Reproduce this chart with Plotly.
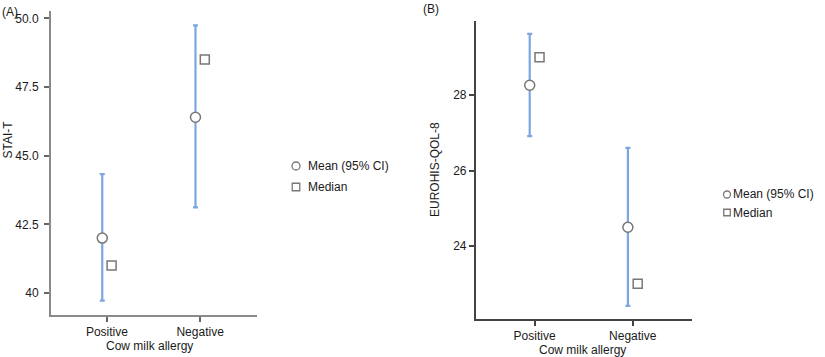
import plotly.graph_objects as go

categories = ["Positive", "Negative"]

# Panel A: STAI-T
a_mean = [42.0, 46.4]
a_ci_low = [39.72, 43.12]
a_ci_high = [44.33, 49.75]
a_median = [41.0, 48.5]
a_tickvals = [40, 42.5, 45, 47.5, 50]
a_ticktext = ["40", "42.5", "45.0", "47.5", "50.0"]

# Panel B: EUROHIS-QOL-8
b_mean = [28.26, 24.5]
b_ci_low = [26.91, 22.42]
b_ci_high = [29.62, 26.6]
b_median = [29.0, 23.0]
b_tickvals = [24, 26, 28]
b_ticktext = ["24", "26", "28"]

W, H = 825, 357
FONT = "Liberation Sans, Arial, sans-serif"
EB_COLOR = "#7BA7DE"
MK_LINE = "#777777"

fig = go.Figure()
xpos = [0, 1]
dodge = 0.05


def add_panel(mean, lo, hi, med, xa, ya):
    fig.add_trace(go.Scatter(
        x=[x - dodge for x in xpos], y=mean, mode="markers",
        marker=dict(symbol="circle", size=10, color="white",
                    line=dict(color=MK_LINE, width=1.5)),
        error_y=dict(type="data", symmetric=False,
                     array=[h - m for h, m in zip(hi, mean)],
                     arrayminus=[m - l for m, l in zip(mean, lo)],
                     color=EB_COLOR, thickness=2.2, width=2.5),
        xaxis=xa, yaxis=ya, showlegend=False, cliponaxis=False))
    fig.add_trace(go.Scatter(
        x=[x + dodge for x in xpos], y=med, mode="markers",
        marker=dict(symbol="square", size=9, color="white",
                    line=dict(color=MK_LINE, width=1.5)),
        xaxis=xa, yaxis=ya, showlegend=False, cliponaxis=False))


add_panel(a_mean, a_ci_low, a_ci_high, a_median, "x", "y")
add_panel(b_mean, b_ci_low, b_ci_high, b_median, "x2", "y2")


def px_x(p):
    return p / W


def px_y(p):
    return 1 - p / H


axis_common = dict(showgrid=False, zeroline=False, showline=True, ticks="outside",
                   ticklen=5, tickfont=dict(family=FONT, size=12, color="#1a1a1a"))

fig.update_layout(
    width=W, height=H, margin=dict(l=0, r=0, t=0, b=0),
    paper_bgcolor="white", plot_bgcolor="white",
    font=dict(family=FONT, size=12, color="#1a1a1a"),
    xaxis=dict(domain=[px_x(51), px_x(257)], range=[-0.6, 1.61],
               tickvals=xpos, ticktext=categories, anchor="y",
               linecolor="#8a8a8a", linewidth=2, tickcolor="#666666", tickwidth=1.5,
               **axis_common),
    yaxis=dict(domain=[px_y(315), px_y(11)], range=[39.2, 50.27],
               tickvals=a_tickvals, ticktext=a_ticktext, anchor="x",
               linecolor="#8a8a8a", linewidth=2, tickcolor="#666666", tickwidth=1.5,
               ticklabelstandoff=3, **axis_common),
    xaxis2=dict(domain=[px_x(475.7), px_x(691.7)], range=[-0.6, 1.6],
                tickvals=xpos, ticktext=categories, anchor="y2",
                linecolor="#444444", linewidth=1.5, tickcolor="#444444", tickwidth=1.5,
                **axis_common),
    yaxis2=dict(domain=[px_y(319), px_y(21)], range=[22.07, 29.96],
                tickvals=b_tickvals, ticktext=b_ticktext, anchor="x2",
                linecolor="#444444", linewidth=1.5, tickcolor="#444444", tickwidth=1.5,
                **axis_common),
)

ann = []


def text(x, y, s, xanchor="left", yanchor="middle", angle=0):
    ann.append(dict(x=px_x(x), y=px_y(y), xref="paper", yref="paper", text=s,
                    showarrow=False, xanchor=xanchor, yanchor=yanchor, textangle=angle,
                    font=dict(family=FONT, size=12, color="#1a1a1a")))


text(0, 12, "(A)")
text(421, 9, "(B)")
text(7.5, 140, "STAI-T", xanchor="center", angle=-90)
text(435, 169, "EUROHIS-QOL-8", xanchor="center", angle=-90)
text(149, 346, "Cow milk allergy", xanchor="center")
text(582, 350, "Cow milk allergy", xanchor="center")
text(306, 166, "Mean (95% CI)")
text(306, 187, "Median")
text(731, 194.5, "Mean (95% CI)")
text(731, 212.5, "Median")
fig.update_layout(annotations=ann)

shapes = []


def legend_icon(kind, cx, cy, size):
    shapes.append(dict(type=kind, xref="paper", yref="paper",
                       xsizemode="pixel", ysizemode="pixel",
                       xanchor=px_x(cx), yanchor=px_y(cy),
                       x0=-size / 2, x1=size / 2, y0=-size / 2, y1=size / 2,
                       line=dict(color=MK_LINE, width=1.3), fillcolor="white"))


legend_icon("circle", 296, 166, 8)
legend_icon("rect", 296, 187, 7.5)
legend_icon("circle", 727, 194.5, 7)
legend_icon("rect", 727, 212.5, 6.5)
fig.update_layout(shapes=shapes)

fig.write_html(
    "out.html",
    config={"displayModeBar": False},
    post_script="document.body.style.margin='0';document.body.style.overflow='hidden';",
)
